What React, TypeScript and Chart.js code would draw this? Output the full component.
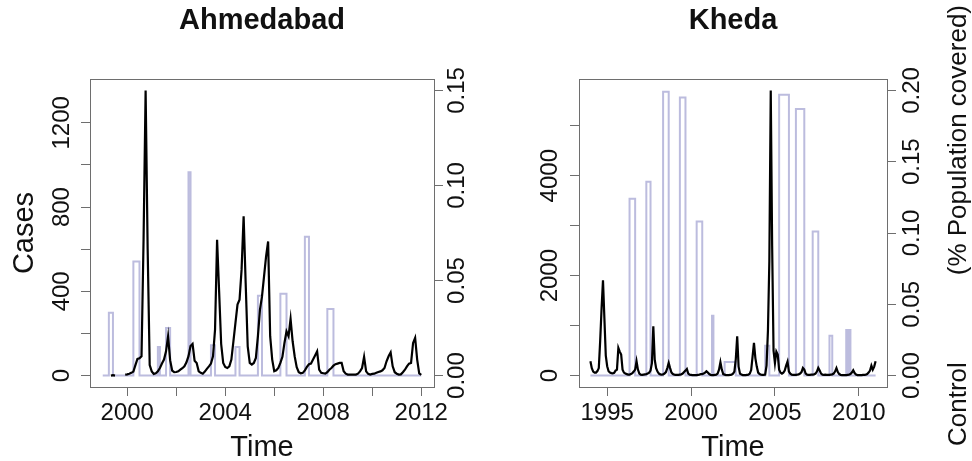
import { useEffect, useRef } from 'react';
import { Chart, registerables } from 'chart.js';

Chart.register(...registerables);

const FONT_FAMILY = '"Liberation Sans", Arial, Helvetica, sans-serif';
const CASE_COLOR = '#000000';
const CONTROL_COLOR = '#bcbcde';
const FRAME_COLOR = '#6e6e6e';
const TEXT_COLOR = '#111111';

// ---------- Ahmedabad: monthly series starting Jan 1999 ----------
const ahmedabadFirstYear = 1999;
const ahmedabadCases: (number | null)[] = [
  null, null, null, null, 0, 2, 0, null, null, null, null, 5, // 1999
  6, 9, 13, 19, 50, 79, 82, 92, 650, 1354, 600, 50, // 2000
  20, 8, 11, 20, 36, 57, 76, 115, 187, 73, 24, 16, // 2001
  17, 20, 28, 35, 44, 63, 92, 140, 150, 70, 60, 20, // 2002
  13, 9, 19, 32, 44, 57, 92, 218, 645, 400, 150, 60, // 2003
  41, 36, 44, 76, 163, 250, 337, 360, 503, 756, 440, 139, // 2004
  60, 52, 60, 84, 187, 313, 376, 471, 566, 637, 187, 76, // 2005
  21, 25, 36, 60, 89, 155, 210, 187, 269, 163, 92, 40, // 2006
  16, 11, 13, 25, 41, 54, 57, 76, 95, 115, 28, 13, // 2007
  11, 9, 16, 28, 36, 47, 54, 57, 60, 60, 21, 9, // 2008
  5, 5, 5, 5, 5, 9, 20, 36, 89, 20, 8, 5, // 2009
  8, 9, 13, 17, 20, 25, 36, 68, 92, 110, 44, 16, // 2010
  9, 5, 6, 16, 28, 44, 57, 60, 155, 179, 76, 10, // 2011
  3, // 2012
];
const ahmedabadControl: number[] = [
  0, 0, 0, 0, 0.033, 0.033, 0, 0, 0, 0, 0, 0, // 1999
  0, 0, 0, 0, 0.06, 0.06, 0.06, 0, 0, 0, 0, 0, // 2000
  0, 0, 0, 0, 0.015, 0, 0, 0, 0.025, 0.025, 0, 0, // 2001
  0, 0, 0, 0, 0, 0, 0, 0.107, 0, 0, 0, 0, // 2002
  0, 0, 0, 0, 0, 0, 0.016, 0.016, 0, 0, 0, 0, // 2003
  0, 0, 0, 0, 0, 0, 0.015, 0.015, 0, 0, 0, 0, // 2004
  0, 0, 0, 0, 0, 0.042, 0.042, 0, 0, 0, 0, 0, // 2005
  0, 0, 0, 0, 0.043, 0.043, 0.043, 0, 0, 0, 0, 0, // 2006
  0, 0, 0, 0, 0.073, 0.073, 0, 0, 0, 0, 0, 0, // 2007
  0, 0, 0, 0.035, 0.035, 0.035, 0, 0, 0, 0, 0, 0, // 2008
  0, 0, 0, 0, 0, 0, 0, 0, 0, 0, 0, 0, // 2009
  0, 0, 0, 0, 0, 0, 0, 0, 0, 0, 0, 0, // 2010
  0, 0, 0, 0, 0, 0, 0, 0, 0, 0, 0, 0, // 2011
  0, // 2012
];
const ahmedabadControlLimit = 0.15;
const ahmedabadYearTicks = [2000, 2002, 2004, 2006, 2008, 2010, 2012];
const ahmedabadYearLabels = [2000, 2004, 2008, 2012];
const ahmedabadCaseTicks = [0, 200, 400, 600, 800, 1000, 1200];
const ahmedabadCaseLabels = [0, 400, 800, 1200];
const ahmedabadControlTicks = [0, 0.05, 0.1, 0.15];

// ---------- Kheda: monthly series starting Jan 1994 ----------
const khedaFirstYear = 1994;
const khedaCases: (number | null)[] = [
  287, 150, 80, 60, 60, 90, 150, 700, 1350, 1907, 1150, 400, // 1994
  187, 87, 60, 50, 45, 55, 100, 120, 553, 480, 420, 120, // 1995
  60, 40, 30, 20, 20, 30, 50, 80, 120, 287, 120, 40, // 1996
  20, 15, 20, 25, 30, 40, 60, 100, 250, 987, 320, 150, // 1997
  80, 40, 25, 20, 25, 40, 70, 150, 253, 150, 60, 30, // 1998
  20, 15, 15, 15, 20, 25, 40, 70, 100, 133, 40, 20, // 1999
  15, 10, 10, 10, 10, 15, 20, 30, 30, 40, 60, 87, // 2000
  60, 30, 15, 10, 10, 15, 20, 40, 120, 267, 120, 30, // 2001
  20, 10, 10, 10, 15, 20, 40, 80, 330, 787, 180, 40, // 2002
  20, 10, 10, 10, 15, 20, 40, 110, 380, 653, 350, 180, // 2003
  60, 30, 20, 15, 15, 20, 200, 900, 2300, 5707, 2600, 500, // 2004
  250, 480, 420, 120, 60, 40, 60, 100, 200, 280, 80, 40, // 2005
  20, 15, 15, 15, 20, 25, 40, 70, 153, 120, 40, 20, // 2006
  15, 15, 20, 20, 25, 40, 80, 153, 100, 40, 20, 15, // 2007
  20, 15, 15, 15, 20, 25, 40, 80, 150, 70, 30, 15, // 2008
  10, 10, 10, 10, 15, 20, 30, 60, 107, 50, 20, 10, // 2009
  10, 10, 10, 15, 15, 20, 30, 60, 100, 200, 120, 180, // 2010
  287, // 2011
];
const khedaControl: number[] = [
  0, 0, 0, 0, 0, 0, 0, 0, 0, 0, 0, 0, // 1994
  0, 0, 0, 0, 0, 0, 0, 0, 0, 0, 0, 0, // 1995
  0, 0, 0, 0, 0, 0.124, 0.124, 0.124, 0.124, 0, 0, 0, // 1996
  0, 0, 0, 0, 0, 0.136, 0.136, 0.136, 0, 0, 0, 0, // 1997
  0, 0, 0, 0, 0, 0.199, 0.199, 0.199, 0.199, 0, 0, 0, // 1998
  0, 0, 0, 0, 0, 0.195, 0.195, 0.195, 0.195, 0, 0, 0, // 1999
  0, 0, 0, 0, 0, 0.108, 0.108, 0.108, 0.108, 0, 0, 0, // 2000
  0, 0, 0, 0, 0.042, 0, 0, 0, 0, 0, 0, 0, // 2001
  0, 0.0096, 0.0096, 0.0096, 0.0096, 0.0096, 0.0096, 0.0096, 0.0096, 0, 0, 0, // 2002
  0, 0, 0, 0, 0, 0, 0, 0, 0, 0, 0, 0, // 2003
  0, 0, 0, 0, 0, 0, 0.021, 0.021, 0.021, 0, 0, 0, // 2004
  0, 0, 0, 0, 0.197, 0.197, 0.197, 0.197, 0.197, 0.197, 0.197, 0, // 2005
  0, 0, 0, 0, 0.187, 0.187, 0.187, 0.187, 0.187, 0.187, 0, 0, // 2006
  0, 0, 0, 0, 0.101, 0.101, 0.101, 0.101, 0, 0, 0, 0, // 2007
  0, 0, 0, 0, 0.028, 0.028, 0, 0, 0, 0, 0, 0, // 2008
  0, 0, 0, 0, 0.032, 0, 0.032, 0, 0, 0, 0, 0, // 2009
  0, 0, 0, 0, 0, 0, 0, 0, 0, 0, 0, 0, // 2010
  0, // 2011
];
const khedaControlLimit = 0.2;
const khedaYearTicks = [1995, 2000, 2005, 2010];
const khedaYearLabels = [1995, 2000, 2005, 2010];
const khedaCaseTicks = [0, 1000, 2000, 3000, 4000, 5000];
const khedaCaseLabels = [0, 2000, 4000];
const khedaControlTicks = [0, 0.05, 0.1, 0.15, 0.2];

type Panel = {
  title: string;
  firstYear: number;
  cases: (number | null)[];
  control: number[];
  controlLimit: number;
  yearTicks: number[];
  yearLabels: number[];
  caseTicks: number[];
  caseLabels: number[];
  controlTicks: number[];
  caseTitle?: string;
  controlTitle?: [string, string];
  leftWidth: number;
  rightWidth: number;
  leftPad: number;
  rightPad: number;
};

const ahmedabadPanel: Panel = {
  title: 'Ahmedabad',
  firstYear: ahmedabadFirstYear,
  cases: ahmedabadCases,
  control: ahmedabadControl,
  controlLimit: ahmedabadControlLimit,
  yearTicks: ahmedabadYearTicks,
  yearLabels: ahmedabadYearLabels,
  caseTicks: ahmedabadCaseTicks,
  caseLabels: ahmedabadCaseLabels,
  controlTicks: ahmedabadControlTicks,
  caseTitle: 'Cases',
  leftWidth: 90,
  rightWidth: 52,
  leftPad: -8,
  rightPad: -9,
};

const khedaPanel: Panel = {
  title: 'Kheda',
  firstYear: khedaFirstYear,
  cases: khedaCases,
  control: khedaControl,
  controlLimit: khedaControlLimit,
  yearTicks: khedaYearTicks,
  yearLabels: khedaYearLabels,
  caseTicks: khedaCaseTicks,
  caseLabels: khedaCaseLabels,
  controlTicks: khedaControlTicks,
  controlTitle: ['Control', '(% Population covered)'],
  leftWidth: 93,
  rightWidth: 85,
  leftPad: -7,
  rightPad: -7,
};

const PANEL_W = 486;
const PANEL_H = 461;

// R-style axis range: the data range widened by 4% on each side
const widen = (lo: number, hi: number): [number, number] => {
  const d = (hi - lo) * 0.04;
  return [lo - d, hi + d];
};

const monthly = (first: number, values: (number | null)[]) =>
  values.map((v, i) => ({ x: first + i / 12, y: v }));

const fixedTicks = (values: number[]) => (scale: any) => {
  scale.ticks = values.map((value) => ({ value }));
};

const tickFont = { family: FONT_FAMILY, size: 24 };

function buildConfig(p: Panel): any {
  const lastX = p.firstYear + (p.cases.length - 1) / 12;
  const [xMin, xMax] = widen(p.firstYear, lastX);
  const caseMax = Math.max(...(p.cases.filter((v) => v !== null) as number[]));
  const [yMin, yMax] = widen(0, caseMax);
  const [cMin, cMax] = widen(0, p.controlLimit);

  const grid = {
    drawOnChartArea: false,
    drawTicks: true,
    tickLength: 9,
    color: FRAME_COLOR,
    lineWidth: 1,
  };

  const decor = {
    id: 'panelDecor',
    afterDraw(chart: any) {
      const { ctx, chartArea: a } = chart;
      ctx.save();
      ctx.strokeStyle = FRAME_COLOR;
      ctx.lineWidth = 1;
      ctx.strokeRect(
        Math.round(a.left) + 0.5,
        Math.round(a.top) + 0.5,
        Math.round(a.right - a.left),
        Math.round(a.bottom - a.top)
      );
      const cx = (a.left + a.right) / 2;
      const cy = (a.top + a.bottom) / 2;
      ctx.fillStyle = TEXT_COLOR;
      ctx.textBaseline = 'alphabetic';
      ctx.textAlign = 'center';
      ctx.font = `bold 29px ${FONT_FAMILY}`;
      ctx.fillText(p.title, cx, 28.5);
      ctx.font = `29px ${FONT_FAMILY}`;
      ctx.fillText('Time', cx, 456);
      if (p.caseTitle) {
        ctx.save();
        ctx.translate(33, cy);
        ctx.rotate(-Math.PI / 2);
        ctx.fillText(p.caseTitle, 0, 0);
        ctx.restore();
      }
      if (p.controlTitle) {
        ctx.save();
        ctx.font = `26px ${FONT_FAMILY}`;
        ctx.translate(480, 0);
        ctx.rotate(-Math.PI / 2);
        ctx.textAlign = 'left';
        ctx.fillText(p.controlTitle[0], -446, 0);
        ctx.textAlign = 'right';
        ctx.fillText(p.controlTitle[1], -5, 0);
        ctx.restore();
      }
      ctx.restore();
    },
  };

  return {
    type: 'line',
    data: {
      datasets: [
        {
          label: 'Cases',
          data: monthly(p.firstYear, p.cases),
          borderColor: CASE_COLOR,
          borderWidth: 2.2,
          pointRadius: 0,
          tension: 0,
          spanGaps: false,
          yAxisID: 'y',
        },
        {
          label: 'Control',
          data: monthly(p.firstYear, p.control),
          borderColor: CONTROL_COLOR,
          borderWidth: 2,
          pointRadius: 0,
          stepped: 'after',
          yAxisID: 'y2',
        },
      ],
    },
    options: {
      responsive: false,
      animation: false,
      events: [],
      parsing: true,
      layout: { padding: { top: 79, left: 0, right: 0, bottom: 0 } },
      plugins: {
        legend: { display: false },
        tooltip: { enabled: false },
        title: { display: false },
      },
      scales: {
        x: {
          type: 'linear',
          position: 'bottom',
          min: xMin,
          max: xMax,
          afterBuildTicks: fixedTicks(p.yearTicks),
          afterFit: (s: any) => {
            s.height = PANEL_H - 387;
          },
          grid,
          border: { display: false },
          ticks: {
            autoSkip: false,
            maxRotation: 0,
            minRotation: 0,
            padding: 3,
            color: TEXT_COLOR,
            font: tickFont,
            callback: (v: number) => (p.yearLabels.includes(v) ? String(v) : ''),
          },
        },
        y: {
          type: 'linear',
          position: 'left',
          min: yMin,
          max: yMax,
          afterBuildTicks: fixedTicks(p.caseTicks),
          afterFit: (s: any) => {
            s.width = p.leftWidth;
          },
          grid,
          border: { display: false },
          ticks: {
            autoSkip: false,
            minRotation: 90,
            maxRotation: 90,
            crossAlign: 'center',
            padding: p.leftPad,
            color: TEXT_COLOR,
            font: tickFont,
            callback: (v: number) => (p.caseLabels.includes(v) ? String(v) : ''),
          },
        },
        y2: {
          type: 'linear',
          position: 'right',
          min: cMin,
          max: cMax,
          afterBuildTicks: fixedTicks(p.controlTicks),
          afterFit: (s: any) => {
            s.width = p.rightWidth;
          },
          grid,
          border: { display: false },
          ticks: {
            autoSkip: false,
            minRotation: 90,
            maxRotation: 90,
            crossAlign: 'center',
            padding: p.rightPad,
            color: TEXT_COLOR,
            font: tickFont,
            callback: (v: number) => v.toFixed(2),
          },
        },
      },
    },
    plugins: [decor],
  };
}

function PanelChart({ panel, left }: { panel: Panel; left: number }) {
  const ref = useRef<HTMLCanvasElement>(null);
  useEffect(() => {
    if (!ref.current) return;
    const chart = new Chart(ref.current, buildConfig(panel));
    return () => chart.destroy();
  }, [panel]);
  return (
    <canvas
      ref={ref}
      width={PANEL_W}
      height={PANEL_H}
      style={{ position: 'absolute', left, top: 0, width: PANEL_W, height: PANEL_H }}
    />
  );
}

export default function App() {
  return (
    <div
      style={{
        position: 'fixed',
        left: 0,
        top: 0,
        width: PANEL_W * 2,
        height: PANEL_H,
        background: '#ffffff',
        overflow: 'hidden',
      }}
    >
      <PanelChart panel={ahmedabadPanel} left={0} />
      <PanelChart panel={khedaPanel} left={PANEL_W} />
    </div>
  );
}
